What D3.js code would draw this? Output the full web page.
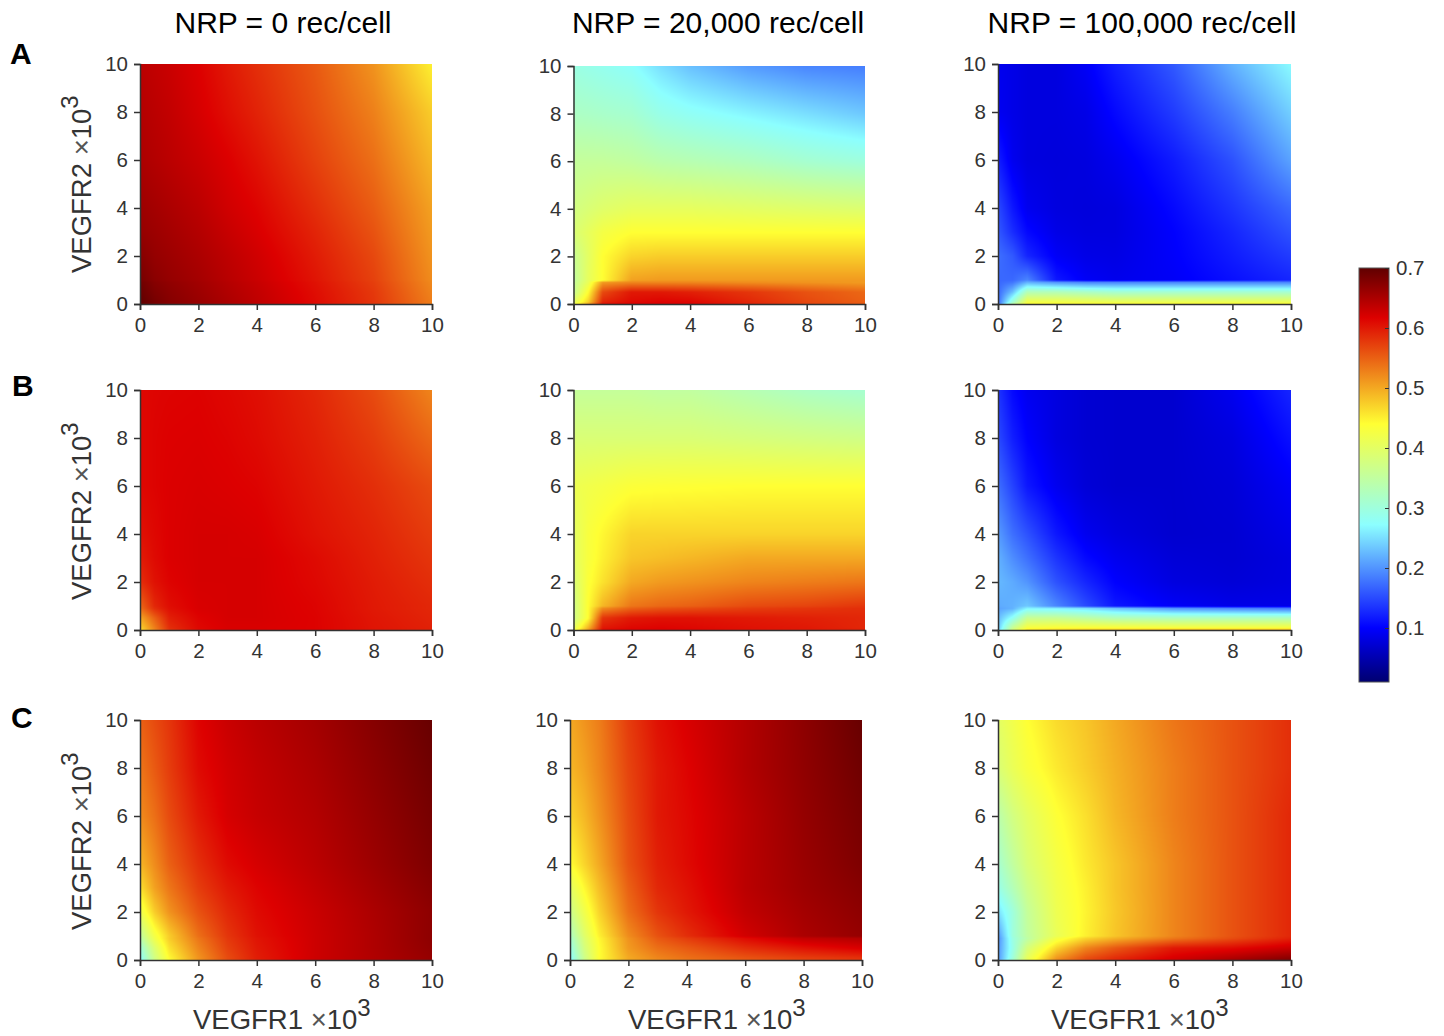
<!DOCTYPE html>
<html>
<head>
<meta charset="utf-8">
<script src="https://cdn.jsdelivr.net/npm/d3@7"></script>
<style>
	html, body { margin: 0; padding: 0; background: #fff; }
	svg { display: block; }
	text { font-family: "Liberation Sans", Arial, sans-serif; }
</style>
</head>
<body>
<div id="chart"></div>
<script>
// grid nodes, in thousands of receptors per cell. rows run from the top of a panel down
var vegfr1 = [0, 0.5, 1, 2, 3, 4, 6, 8, 10];
var vegfr2 = [10, 8, 6, 4, 3, 2, 1, 0.9, 0.5, 0.1, 0];

var rowTitles = ['A', 'B', 'C'];
var colTitles = ['NRP = 0 rec/cell', 'NRP = 20,000 rec/cell', 'NRP = 100,000 rec/cell'];
var axisTicks = [0, 2, 4, 6, 8, 10];
var barTicks = [0.1, 0.2, 0.3, 0.4, 0.5, 0.6, 0.7];

// colormap
var cmapValues = [0.01, 0.1, 0.272, 0.44, 0.617, 0.7];
var cmapColors = ['#000070', '#0000ff', '#8cffff', '#ffff33', '#dd0000', '#600000'];

var panelA1 = [
	[.640, .635, .630, .617, .600, .585, .555, .515, .450],
	[.645, .640, .635, .622, .607, .593, .562, .528, .475],
	[.650, .645, .640, .630, .618, .604, .572, .540, .490],
	[.660, .655, .650, .640, .626, .615, .585, .553, .505],
	[.665, .660, .655, .645, .632, .620, .592, .560, .510],
	[.675, .665, .660, .650, .638, .626, .598, .567, .515],
	[.685, .672, .665, .655, .642, .630, .603, .572, .520],
	[.690, .675, .668, .657, .644, .632, .605, .574, .522],
	[.695, .680, .672, .660, .647, .635, .608, .578, .526],
	[.700, .685, .675, .663, .650, .637, .610, .580, .530],
	[.700, .685, .675, .663, .650, .637, .610, .580, .530]
];
var panelA2 = [
	[.295, .290, .285, .275, .250, .230, .205, .190, .185],
	[.320, .318, .315, .310, .290, .280, .265, .250, .235],
	[.355, .355, .355, .350, .340, .335, .325, .310, .300],
	[.375, .385, .395, .405, .405, .405, .400, .395, .390],
	[.385, .405, .425, .440, .440, .440, .440, .440, .440],
	[.360, .400, .440, .470, .475, .475, .475, .475, .475],
	[.350, .405, .440, .505, .510, .510, .510, .510, .510],
	[.355, .410, .510, .525, .525, .525, .520, .515, .510],
	[.360, .440, .565, .600, .600, .595, .580, .560, .545],
	[.400, .470, .590, .610, .615, .612, .590, .567, .550],
	[.420, .500, .605, .617, .620, .617, .595, .570, .555]
];
var panelA3 = [
	[.090, .085, .080, .080, .095, .120, .160, .220, .270],
	[.092, .085, .080, .080, .085, .105, .140, .185, .240],
	[.120, .090, .080, .078, .080, .090, .118, .155, .210],
	[.150, .115, .090, .080, .078, .080, .105, .135, .170],
	[.160, .130, .105, .085, .080, .080, .100, .125, .155],
	[.175, .160, .125, .095, .085, .083, .098, .118, .140],
	[.170, .170, .190, .115, .095, .088, .095, .110, .125],
	[.170, .180, .220, .200, .190, .190, .190, .190, .190],
	[.170, .230, .330, .330, .320, .310, .310, .310, .310],
	[.170, .300, .420, .420, .415, .410, .410, .410, .410],
	[.170, .340, .440, .440, .440, .440, .440, .440, .440]
];
var panelB1 = [
	[.612, .614, .615, .616, .612, .607, .590, .565, .525],
	[.612, .615, .617, .618, .615, .610, .595, .575, .545],
	[.612, .615, .618, .620, .618, .615, .600, .585, .565],
	[.605, .612, .618, .622, .622, .620, .605, .592, .575],
	[.598, .610, .618, .622, .622, .622, .610, .595, .580],
	[.585, .605, .615, .622, .622, .622, .612, .598, .585],
	[.545, .590, .608, .620, .622, .622, .615, .600, .590],
	[.540, .585, .606, .620, .622, .622, .615, .600, .590],
	[.500, .550, .595, .615, .622, .622, .616, .602, .592],
	[.470, .530, .585, .612, .620, .620, .616, .603, .594],
	[.460, .525, .580, .610, .620, .620, .616, .603, .594]
];
var panelB2 = [
	[.355, .355, .355, .355, .350, .350, .335, .320, .310],
	[.385, .385, .385, .385, .385, .385, .380, .375, .370],
	[.415, .420, .425, .435, .437, .438, .440, .440, .440],
	[.400, .430, .445, .470, .470, .470, .470, .470, .470],
	[.400, .430, .450, .480, .485, .490, .500, .500, .500],
	[.385, .435, .460, .500, .510, .515, .525, .530, .535],
	[.370, .440, .490, .535, .545, .550, .565, .570, .580],
	[.370, .440, .520, .550, .560, .565, .575, .580, .585],
	[.370, .440, .580, .600, .605, .605, .600, .595, .590],
	[.400, .490, .600, .612, .615, .612, .605, .600, .590],
	[.420, .510, .610, .617, .617, .615, .605, .600, .595]
];
var panelB3 = [
	[.135, .105, .090, .080, .072, .070, .070, .090, .125],
	[.150, .120, .100, .080, .072, .070, .070, .080, .110],
	[.175, .145, .115, .090, .075, .070, .070, .075, .095],
	[.205, .175, .155, .115, .090, .080, .070, .072, .085],
	[.220, .195, .175, .135, .105, .090, .075, .072, .080],
	[.225, .215, .200, .155, .125, .100, .080, .075, .080],
	[.215, .220, .235, .190, .150, .115, .095, .085, .085],
	[.210, .220, .265, .260, .250, .230, .200, .190, .180],
	[.225, .280, .360, .360, .345, .330, .325, .325, .325],
	[.230, .360, .430, .435, .435, .435, .430, .430, .430],
	[.240, .380, .460, .470, .480, .480, .490, .490, .490]
];
var panelC1 = [
	[.550, .565, .580, .615, .630, .640, .655, .675, .695],
	[.535, .555, .575, .610, .625, .635, .650, .670, .690],
	[.520, .540, .565, .600, .622, .632, .645, .665, .685],
	[.490, .520, .550, .585, .610, .622, .640, .660, .680],
	[.460, .505, .535, .575, .600, .615, .635, .655, .675],
	[.415, .475, .515, .560, .590, .610, .630, .650, .670],
	[.350, .425, .475, .540, .580, .605, .628, .648, .670],
	[.340, .420, .475, .535, .578, .603, .628, .648, .670],
	[.300, .390, .460, .525, .572, .600, .628, .648, .668],
	[.275, .375, .445, .515, .565, .597, .628, .647, .665],
	[.270, .370, .440, .515, .565, .595, .628, .647, .665]
];
var panelC2 = [
	[.500, .515, .530, .575, .605, .620, .645, .670, .695],
	[.490, .505, .525, .570, .600, .615, .645, .668, .690],
	[.470, .490, .515, .565, .600, .612, .640, .665, .685],
	[.440, .470, .500, .560, .595, .610, .640, .662, .680],
	[.400, .445, .485, .550, .590, .605, .640, .660, .675],
	[.365, .420, .470, .540, .580, .600, .635, .655, .670],
	[.320, .395, .450, .520, .560, .585, .625, .650, .665],
	[.310, .390, .445, .515, .555, .575, .610, .635, .645],
	[.290, .380, .440, .510, .540, .555, .585, .605, .620],
	[.270, .370, .440, .500, .525, .540, .560, .575, .585],
	[.265, .370, .440, .500, .520, .535, .555, .570, .580]
];
var panelC3 = [
	[.400, .420, .440, .465, .480, .500, .535, .560, .585],
	[.385, .410, .430, .455, .475, .495, .530, .560, .585],
	[.340, .375, .400, .437, .462, .490, .530, .560, .590],
	[.310, .350, .385, .425, .455, .480, .525, .560, .590],
	[.290, .330, .370, .420, .450, .480, .525, .560, .590],
	[.250, .300, .355, .415, .448, .478, .525, .560, .590],
	[.200, .300, .350, .410, .450, .480, .525, .560, .590],
	[.195, .295, .345, .425, .470, .495, .535, .565, .595],
	[.200, .290, .380, .470, .525, .555, .600, .610, .630],
	[.200, .300, .405, .510, .560, .585, .620, .645, .670],
	[.205, .310, .410, .520, .565, .590, .625, .655, .680]
];

var panels = [
	[panelA1, panelA2, panelA3],
	[panelB1, panelB2, panelB3],
	[panelC1, panelC2, panelC3]
];

// pixel edges of each panel, they are not quite aligned in the figure
var lefts = [[140, 573.5, 998], [140, 573.5, 998], [140, 570, 998]];
var rights = [[432, 865, 1291], [432, 865, 1291], [432, 862, 1291]];
var tops = [[64, 66, 64], [390, 390, 390], [720, 720, 720]];
var bottoms = [304, 630, 960];

var inkColor = '#333333';

var svg = d3.select('#chart').append('svg').attr('width', 1444).attr('height', 1036);

var color = d3.scaleLinear()
	.domain(cmapValues)
	.range(cmapColors)
	.clamp(true);

// same idea as matlab's shading interp: each pixel is read from the four nodes around it
function sample(grid, xv, yv) {
	var i = Math.min(Math.max(d3.bisectRight(vegfr1, xv) - 1, 0), vegfr1.length - 2);
	var j = 0;
	while (j < vegfr2.length - 2 && vegfr2[j + 1] >= yv) j++;
	var tx = (xv - vegfr1[i]) / (vegfr1[i + 1] - vegfr1[i]);
	var ty = (vegfr2[j] - yv) / (vegfr2[j] - vegfr2[j + 1]);
	var top = grid[j][i] + (grid[j][i + 1] - grid[j][i]) * tx;
	var bot = grid[j + 1][i] + (grid[j + 1][i + 1] - grid[j + 1][i]) * tx;
	return top + (bot - top) * ty;
}

function heatmapUrl(grid, xScale, yScale) {
	var w = Math.round(xScale.range()[1] - xScale.range()[0]);
	var h = Math.round(yScale.range()[0] - yScale.range()[1]);
	var canvas = document.createElement('canvas');
	canvas.width = w;
	canvas.height = h;
	var ctx = canvas.getContext('2d');
	var img = ctx.createImageData(w, h);
	for (var py = 0; py < h; py++) {
		for (var px = 0; px < w; px++) {
			var xv = xScale.invert(xScale.range()[0] + px + 0.5);
			var yv = yScale.invert(yScale.range()[1] + py + 0.5);
			var c = d3.rgb(color(sample(grid, xv, yv)));
			var k = (py * w + px) * 4;
			img.data[k] = c.r;
			img.data[k + 1] = c.g;
			img.data[k + 2] = c.b;
			img.data[k + 3] = 255;
		}
	}
	ctx.putImageData(img, 0, 0);
	return canvas.toDataURL();
}

function styleAxis(g) {
	g.selectAll('path, line').attr('stroke', inkColor).attr('stroke-width', 1.5);
	g.selectAll('text').attr('fill', inkColor).style('font-size', '20.5px');
}

function axisLabel(parent, name, size) {
	var t = parent.append('text')
		.attr('fill', inkColor)
		.style('font-size', size + 'px');
	t.append('tspan').text(name + ' ');
	t.append('tspan').text('\u00d7').attr('font-weight', 'normal').attr('fill', '#555');
	t.append('tspan').text('10');
	t.append('tspan').text('3').attr('dy', -13).style('font-size', '24px');
	return t;
}

panels.forEach(function(row, r) {
	row.forEach(function(grid, c) {
		var xScale = d3.scaleLinear().domain([0, 10]).range([lefts[r][c], rights[r][c]]);
		var yScale = d3.scaleLinear().domain([0, 10]).range([bottoms[r], tops[r][c]]);

		svg.append('image')
			.attr('x', lefts[r][c])
			.attr('y', tops[r][c])
			.attr('width', rights[r][c] - lefts[r][c])
			.attr('height', bottoms[r] - tops[r][c])
			.attr('preserveAspectRatio', 'none')
			.attr('href', heatmapUrl(grid, xScale, yScale));

		svg.append('g')
			.attr('transform', 'translate(0,' + bottoms[r] + ')')
			.call(d3.axisBottom(xScale).tickValues(axisTicks).tickSizeOuter(0).tickSize(6).tickPadding(7))
			.call(styleAxis);

		svg.append('g')
			.attr('transform', 'translate(' + lefts[r][c] + ',0)')
			.call(d3.axisLeft(yScale).tickValues(axisTicks).tickSizeOuter(0).tickSize(6).tickPadding(6))
			.call(styleAxis);
	});
});

// column titles
var titleX = [283, 718, 1142];
colTitles.forEach(function(t, c) {
	svg.append('text')
		.attr('x', titleX[c])
		.attr('y', 33)
		.attr('text-anchor', 'middle')
		.attr('fill', '#000')
		.style('font-size', '30px')
		.text(t);
});

// row letters
var letterX = [10, 12, 11];
var letterY = [64, 396, 728];
rowTitles.forEach(function(t, r) {
	svg.append('text')
		.attr('x', letterX[r])
		.attr('y', letterY[r])
		.attr('fill', '#000')
		.attr('font-weight', 'bold')
		.style('font-size', '30px')
		.text(t);
});

// axis labels
var yLabelBottom = [273, 600, 930];
yLabelBottom.forEach(function(b) {
	axisLabel(svg, 'VEGFR2', 27.5)
		.attr('transform', 'translate(91,' + b + ') rotate(-90)');
});

var xLabelLeft = [193, 628, 1051];
xLabelLeft.forEach(function(l) {
	axisLabel(svg, 'VEGFR1', 27.5)
		.attr('transform', 'translate(' + l + ',1029)');
});

// colour bar
var barX = 1359, barW = 30;
var barScale = d3.scaleLinear().domain([0.01, 0.7]).range([682, 268]);

var grad = svg.append('defs').append('linearGradient')
	.attr('id', 'barGradient')
	.attr('x1', 0).attr('x2', 0)
	.attr('y1', 1).attr('y2', 0);

grad.selectAll('stop')
	.data(cmapValues)
	.enter().append('stop')
	.attr('offset', function(d) { return (d - 0.01) / 0.69; })
	.attr('stop-color', function(d) { return color(d); });

svg.append('rect')
	.attr('x', barX)
	.attr('y', barScale(0.7))
	.attr('width', barW)
	.attr('height', barScale(0.01) - barScale(0.7))
	.attr('fill', 'url(#barGradient)')
	.attr('stroke', '#555')
	.attr('stroke-width', 1);

svg.append('g')
	.attr('transform', 'translate(' + (barX + barW) + ',0)')
	.call(d3.axisRight(barScale).tickValues(barTicks).tickFormat(d3.format('.1f')).tickSize(-4).tickSizeOuter(0).tickPadding(7))
	.call(function(g) {
		g.select('.domain').remove();
		g.selectAll('line').attr('stroke', inkColor).attr('stroke-width', 1);
		g.selectAll('text').attr('fill', inkColor).style('font-size', '20.5px');
	});
</script>
</body>
</html>
